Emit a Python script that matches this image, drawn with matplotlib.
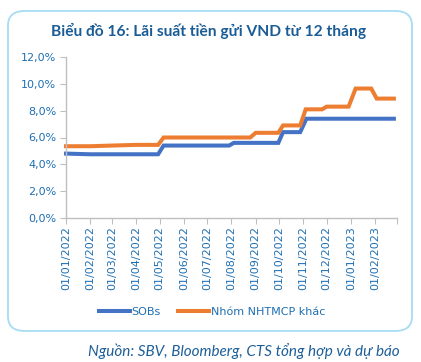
import matplotlib
matplotlib.use('Agg')
import matplotlib.pyplot as plt
from matplotlib.patches import FancyBboxPatch
import pandas as pd

# Step points (date, rate %)
sob_dates = ['2022-01-01', '2022-02-01', '2022-04-29', '2022-05-06', '2022-07-29',
             '2022-08-04', '2022-09-30', '2022-10-06', '2022-10-28', '2022-11-05',
             '2023-02-25']
sob_rates = [4.80, 4.75, 4.75, 5.40, 5.40, 5.60, 5.60, 6.40, 6.40, 7.40, 7.40]

other_dates = ['2022-01-01', '2022-02-01', '2022-03-01', '2022-04-01', '2022-04-29',
               '2022-05-06', '2022-08-25', '2022-09-01', '2022-09-30', '2022-10-06',
               '2022-10-28', '2022-11-04', '2022-11-25', '2022-12-01', '2022-12-29',
               '2023-01-07', '2023-01-27', '2023-02-03', '2023-02-25']
other_rates = [5.35, 5.35, 5.40, 5.45, 5.45, 6.00, 6.00, 6.35, 6.35, 6.90,
               6.90, 8.10, 8.10, 8.30, 8.30, 9.65, 9.65, 8.90, 8.90]

tick_months = pd.date_range('2022-01-01', '2023-03-01', freq='MS')

blue = '#4472C4'
orange = '#ED7D31'
text_blue = '#1F6FB2'
title_blue = '#1A5C96'

fig = plt.figure(figsize=(4.21, 3.62), dpi=100)

# rounded frame behind everything
frame = FancyBboxPatch((8 / 421, 1 - 331 / 362), 404 / 421, 320 / 362,
                       boxstyle='round,pad=0,rounding_size=0.04',
                       transform=fig.transFigure, facecolor='white',
                       edgecolor='#A6DCF4', linewidth=1.3, zorder=-5)
fig.patches.append(frame)

fig.text(209 / 421, 1 - 31 / 362, 'Biểu đồ 16: Lãi suất tiền gửi VND từ 12 tháng',
         ha='center', va='center', fontsize=11.2, fontweight='bold',
         color=title_blue, family=['Lato', 'Noto Sans'])

ax = fig.add_axes([66 / 421, 1 - 218 / 362, 331 / 421, 161 / 362])
ax.patch.set_alpha(0)
ax.plot(pd.to_datetime(sob_dates), sob_rates, color=blue, lw=2.9,
        label='SOBs', solid_joinstyle='miter', clip_on=False)
ax.plot(pd.to_datetime(other_dates), other_rates, color=orange, lw=2.9,
        label='Nhóm NHTMCP khác', solid_joinstyle='miter', clip_on=False)

ax.set_ylim(0, 12)
ax.set_yticks(range(0, 13, 2))
ax.set_yticklabels([f'{v},0%' for v in range(0, 13, 2)])
ax.set_xlim(tick_months[0], tick_months[-1])
ax.set_xticks(tick_months)
ax.set_xticklabels([d.strftime('%d/%m/%Y') for d in tick_months[:-1]] + [''],
                   rotation=90)

for s in ['top', 'right']:
    ax.spines[s].set_visible(False)
for s in ['left', 'bottom']:
    ax.spines[s].set_color('#BFBFBF')
    ax.spines[s].set_linewidth(1)
ax.tick_params(axis='both', colors='#BFBFBF', labelcolor=text_blue,
               labelsize=8, length=4, direction='out')
ax.tick_params(axis='y', pad=3)
ax.tick_params(axis='x', pad=2)

leg = fig.legend(loc='center', bbox_to_anchor=(212 / 421, 1 - 312 / 362),
                 ncol=2, frameon=False, fontsize=8, handlelength=2.8,
                 handletextpad=0.1, columnspacing=1.6)
for t in leg.get_texts():
    t.set_color(text_blue)

fig.text(400 / 421, 1 - 351 / 362, 'Nguồn: SBV, Bloomberg, CTS tổng hợp và dự báo',
         ha='right', va='center', fontsize=11, style='italic',
         color='#1D5F99', family=['Lato', 'Noto Sans'])

fig.savefig('out.png', dpi=100)
